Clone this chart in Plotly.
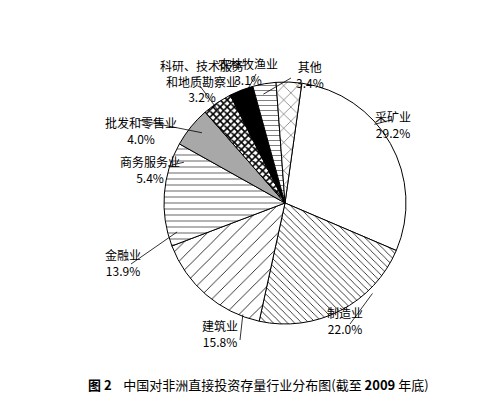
import numpy as np
import plotly.graph_objects as go

labels = ["采矿业", "制造业", "建筑业", "金融业", "商务服务业", "批发和零售业",
          "科研、技术服务<br>和地质勘察业", "农林牧渔业", "其他"]
values = [29.2, 22.0, 15.8, 13.9, 5.4, 4.0, 3.2, 3.1, 3.4]
shapes_ = ["", "\\", "/", "-", "", "x", "", "-", "x"]
colors = ["white", "white", "white", "white", "#a8a8a8", "white", "black", "white", "white"]
sizes = [8, 5, 10, 6, 8, 5, 8, 5, 10]
solid = [0.2, 0.15, 0.08, 0.1, 0.2, 0.55, 0.2, 0.1, 0.08]

# label anchor (px) and line end (px)
label_pos = [(405, 98), (357, 331), (212, 344), (95, 255), (110, 162),
             (95, 104), (150, 47), (240, 45), (302, 48)]
line_end = [(383, 112), (342, 316), (232, 332), (123, 256), (160, 158),
            (130, 112), (192, 78), (248, 66), (283, 70)]

W, H = 500, 414
cx, cy, R = 284, 200, 121
rot = -8  # clockwise-from-top angle where the first slice starts

fig = go.Figure(go.Pie(
    labels=labels, values=values, sort=False, direction="clockwise", rotation=-rot,
    textinfo="none", hoverinfo="label+percent", showlegend=False,
    domain=dict(x=[(cx - 7 - R) / W, (cx - 7 + R) / W], y=[1 - (cy - 5 + R) / H, 1 - (cy - 5 - R) / H]),
    marker=dict(colors=colors, line=dict(color="black", width=1),
                pattern=dict(shape=shapes_, fgcolor="black", bgcolor=colors,
                             size=sizes, solidity=solid)),
))

ann = []
shp = []
cum = 0
for lab, v, (lx, ly), (ex, ey) in zip(labels, values, label_pos, line_end):
    mid = rot + (cum + v / 2) / 100 * 360
    cum += v
    a = np.radians(mid)
    sx, sy = cx + R * 0.97 * np.sin(a), cy - R * 0.97 * np.cos(a)
    shp.append(dict(type="line", xref="paper", yref="paper", x0=sx / W, y0=1 - sy / H,
                    x1=ex / W, y1=1 - ey / H, line=dict(color="black", width=0.8)))
    ann.append(dict(text=f"{lab}<br>{v:.1f}%", x=lx / W, y=1 - ly / H, xref="paper", yref="paper",
                    showarrow=False, font=dict(size=12, color="black")))

ann.append(dict(text="<b>图 2</b>    中国对非洲直接投资存量行业分布图(截至 <b>2009</b> 年底)",
                x=0.5, y=1 - 388 / H, xref="paper", yref="paper", showarrow=False,
                font=dict(size=13, color="black")))

fig.update_layout(width=W, height=H, margin=dict(l=0, r=0, t=0, b=0),
                  paper_bgcolor="white", annotations=ann, shapes=shp,
                  font=dict(family="Noto Sans CJK SC"))
fig.write_html("out.html")
